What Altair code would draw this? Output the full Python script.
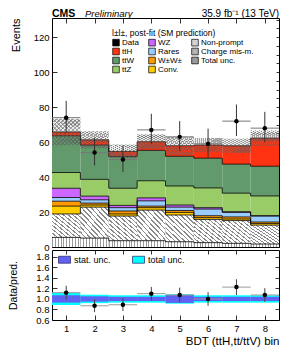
import altair as alt
import pandas as pd

FONT = "Liberation Sans"

# ---------------- data ----------------
bins = [1, 2, 3, 4, 5, 6, 7, 8]
charge = [5.5, 5.1, 3.6, 3.6, 3.0, 2.5, 2.1, 1.7]
nonprompt = [13.4, 17.7, 14.1, 17.5, 15.3, 13.3, 13.0, 10.8]
conv = [4.5, 1.2, 1.2, 1.4, 1.5, 1.0, 0.9, 0.9]
wpwp = [2.8, 1.1, 1.7, 0.9, 1.1, 1.1, 1.2, 0.9]
rares = [2.1, 1.9, 1.9, 3.0, 1.9, 3.8, 2.6, 3.4]
wz = [5.3, 2.1, 1.3, 1.7, 1.2, 0.8, 0.4, 0.2]
ttz = [9.0, 9.6, 9.8, 9.8, 10.9, 11.3, 10.6, 11.3]
ttw = [21.0, 19.6, 18.1, 17.4, 17.0, 17.0, 16.6, 17.0]
tth = [2.2, 3.0, 3.0, 4.9, 6.0, 7.5, 10.5, 16.1]

data = [74, 54, 50, 67, 63, 59, 72, 68]
data_err_lo = [8.6, 7.3, 7.0, 8.1, 7.9, 7.7, 8.5, 8.2]
data_err_hi = [9.6, 8.4, 8.1, 9.2, 9.0, 8.7, 9.5, 9.3]

tot_unc_rel = [0.115, 0.08, 0.07, 0.07, 0.09, 0.07, 0.07, 0.07]
stat_unc_rel = [0.07, 0.05, 0.04, 0.04, 0.075, 0.04, 0.04, 0.04]

ratio = [1.12, 0.87, 0.89, 1.10, 1.075, 1.00, 1.225, 1.075]
ratio_err = [0.13, 0.12, 0.12, 0.13, 0.14, 0.13, 0.15, 0.13]

stack_order = ["Charge mis-m.", "Non-prompt", "Conv.", "W±W±", "Rares", "WZ", "ttZ", "ttW", "ttH"]
stack_values = [charge, nonprompt, conv, wpwp, rares, wz, ttz, ttw, tth]

# legend fills column by column
legend_order = ["Data", "ttH", "ttW", "ttZ",
                "WZ", "Rares", "W±W±", "Conv.",
                "Non-prompt", "Charge mis-m.", "Total unc."]
legend_colors = ["black", "#ff3311", "#629a6b", "#99cc66",
                 "#cc66ff", "#99ccff", "#ff9900", "#ffcc00",
                 "#d4d4d4", "#b4b4b4", "#9a9a9a"]


def stripes(n, fg, bg, duty, x1, y1, x2, y2):
    stops = []
    for i in range(n):
        a = i / n
        b = (i + duty) / n
        c = (i + 1) / n
        stops += [{"offset": a, "color": fg}, {"offset": b, "color": fg},
                  {"offset": b, "color": bg}, {"offset": c, "color": bg}]
    return {"gradient": "linear", "stops": stops,
            "x1": x1, "y1": y1, "x2": x2, "y2": y2}


np_grad = stripes(12, "#8a8a8a", "white", 0.33, 0, 1, 1, 0)
ch_grad = stripes(10, "#9a9a9a", "white", 0.35, 0, 0, 1, 0)
tu_grad_a = stripes(14, "rgba(90,90,90,0.6)", "rgba(120,120,120,0.15)", 0.35, 0, 0, 1, 1)
tu_grad_b = stripes(14, "rgba(90,90,90,0.45)", "rgba(0,0,0,0)", 0.35, 0, 1, 1, 0)

# ---------------- tables ----------------
rows = []
step_rows = []
cum = [0.0] * len(bins)
for comp, vals in zip(stack_order, stack_values):
    tops = []
    for i, b in enumerate(bins):
        rows.append({"comp": comp, "lo": b - 0.5, "hi": b + 0.5,
                     "y0": cum[i], "y1": cum[i] + vals[i]})
        cum[i] = cum[i] + vals[i]
        tops.append(cum[i])
    for i, b in enumerate(bins):
        step_rows.append({"comp": comp, "x": b - 0.5, "y": tops[i]})
    step_rows.append({"comp": comp, "x": bins[-1] + 0.5, "y": tops[-1]})
stack_df = pd.DataFrame(rows)
step_df = pd.DataFrame(step_rows)
pred = cum

band_df = pd.DataFrame({
    "lo": [b - 0.5 for b in bins], "hi": [b + 0.5 for b in bins],
    "dn": [p * (1 - u) for p, u in zip(pred, tot_unc_rel)],
    "up": [p * (1 + u) for p, u in zip(pred, tot_unc_rel)],
})

data_df = pd.DataFrame({
    "bin": bins, "lo": [b - 0.5 for b in bins], "hi": [b + 0.5 for b in bins],
    "data": data,
    "dlo": [d - e for d, e in zip(data, data_err_lo)],
    "dhi": [d + e for d, e in zip(data, data_err_hi)],
    "ratio": ratio,
    "rlo": [r - e for r, e in zip(ratio, ratio_err)],
    "rhi": [r + e for r, e in zip(ratio, ratio_err)],
})

rband_rows = []
for kind, rel in [("total unc.", tot_unc_rel), ("stat. unc.", stat_unc_rel)]:
    for i, b in enumerate(bins):
        rband_rows.append({"kind": kind, "lo": b - 0.5, "hi": b + 0.5,
                           "dn": 1 - rel[i], "up": 1 + rel[i]})
rband_df = pd.DataFrame(rband_rows)

# ---------------- scales / axes ----------------
xs = alt.Scale(domain=[0.5, 8.5], nice=False, zero=False)
ys = alt.Scale(domain=[0, 131], nice=False, zero=False)
rs = alt.Scale(domain=[0.6, 1.93], nice=False, zero=False)

AX = alt.Axis(orient="bottom", values=bins, labels=False, offset=-5, tickSize=5, title=None)
AY = alt.Axis(orient="left", values=[0, 20, 40, 60, 80, 100, 120], offset=-5, tickSize=5,
              labelPadding=3, title="Events", titleAnchor="end",
              titleFontSize=11, titlePadding=12)
AX_TOP = alt.Axis(orient="top", values=bins, labels=False, offset=-5, tickSize=5, title=None)
AY_RIGHT = alt.Axis(orient="right", values=list(range(0, 131, 5)), labels=False,
                    offset=-3, tickSize=3, title=None)

main_legend = alt.Legend(
    title="l±l±, post-fit (SM prediction)", orient="none", legendX=60, legendY=11,
    columns=3, columnPadding=8, rowPadding=-2, titlePadding=1,
    titleFontSize=8.5, titleFontWeight="normal", labelFontSize=8,
    symbolSize=44, symbolType="square", symbolStrokeColor="black",
    symbolStrokeWidth=0.7, labelOffset=2, titleLimit=300, labelLimit=200,
)


def mx(f):
    return alt.X(f, scale=xs, axis=AX)


def my(f):
    return alt.Y(f, scale=ys, axis=AY)


stack = alt.Chart(stack_df).mark_rect().encode(
    x=mx("lo:Q"), x2="hi:Q", y=my("y0:Q"), y2="y1:Q",
    color=alt.Color("comp:N", scale=alt.Scale(domain=legend_order, range=legend_colors),
                    legend=main_legend),
)

np_layer = alt.Chart(stack_df).transform_filter(
    alt.datum.comp == "Non-prompt").mark_rect(fill=np_grad).encode(
    x=mx("lo:Q"), x2="hi:Q", y=my("y0:Q"), y2="y1:Q")

ch_layer = alt.Chart(stack_df).transform_filter(
    alt.datum.comp == "Charge mis-m.").mark_rect(fill=ch_grad).encode(
    x=mx("lo:Q"), x2="hi:Q", y=my("y0:Q"), y2="y1:Q")

steps = alt.Chart(step_df).mark_line(interpolate="step-after", color="black",
                                      strokeWidth=0.8).encode(
    x=mx("x:Q"), y=my("y:Q"), detail="comp:N")

band_a = alt.Chart(band_df).mark_rect(fill=tu_grad_a).encode(
    x=mx("lo:Q"), x2="hi:Q", y=my("dn:Q"), y2="up:Q")
band_b = alt.Chart(band_df).mark_rect(fill=tu_grad_b).encode(
    x=mx("lo:Q"), x2="hi:Q", y=my("dn:Q"), y2="up:Q")

d_h = alt.Chart(data_df).mark_rule(color="#777777", strokeWidth=1).encode(
    x=mx("lo:Q"), x2="hi:Q", y=my("data:Q"))
d_v = alt.Chart(data_df).mark_rule(color="#333333", strokeWidth=1).encode(
    x=mx("bin:Q"), y=my("dlo:Q"), y2="dhi:Q")
d_p = alt.Chart(data_df).mark_point(filled=True, color="black", size=20, opacity=1).encode(
    x=mx("bin:Q"), y=my("data:Q"))

txt_df = pd.DataFrame({"cms": ["CMS"], "pre": ["Preliminary"], "lumi": ["35.9 fb⁻¹ (13 TeV)"]})
t_cms = alt.Chart(txt_df).mark_text(font=FONT, fontSize=10.5, fontWeight="bold", align="left",
                                    baseline="alphabetic").encode(
    x=alt.value(0), y=alt.value(-1.5), text="cms:N")
t_pre = alt.Chart(txt_df).mark_text(font=FONT, fontSize=9.5, fontStyle="italic", align="left",
                                    baseline="alphabetic").encode(
    x=alt.value(33), y=alt.value(-1.5), text="pre:N")
t_lumi = alt.Chart(txt_df).mark_text(font=FONT, fontSize=10, align="right",
                                     baseline="alphabetic").encode(
    x=alt.value(227), y=alt.value(-1.5), text="lumi:N")

main_inner = alt.layer(stack, np_layer, ch_layer, steps, band_a, band_b, d_h, d_v, d_p)
axes_main = alt.Chart(data_df).mark_point(opacity=0).encode(
    x=alt.X("bin:Q", scale=xs, axis=AX_TOP),
    y=alt.Y("data:Q", scale=ys, axis=AY_RIGHT))
main = alt.layer(main_inner, axes_main, t_cms, t_pre, t_lumi).properties(width=227, height=229)

# ---------------- ratio panel ----------------
RX = alt.Axis(orient="bottom", values=bins, format="d", offset=-5, tickSize=5, labelPadding=3,
              title="BDT (ttH,tt/ttV) bin", titleAnchor="end", titleFontSize=11.5,
              titlePadding=3)
RY = alt.Axis(orient="left", values=[0.6, 0.8, 1.0, 1.2, 1.4, 1.6, 1.8], format=".1f",
              offset=-5, tickSize=5, labelPadding=3, title="Data/pred.", titleFontSize=10.5,
              titlePadding=17)
RX_TOP = alt.Axis(orient="top", values=bins, labels=False, offset=-4, tickSize=4, title=None)
RY_RIGHT = alt.Axis(orient="right", values=[0.6, 0.8, 1.0, 1.2, 1.4, 1.6, 1.8],
                    labels=False, offset=-4, tickSize=4, title=None)


def rx(f):
    return alt.X(f, scale=xs, axis=RX)


def ry(f):
    return alt.Y(f, scale=rs, axis=RY)


ratio_legend = alt.Legend(
    title=None, orient="none", legendX=6, legendY=3, direction="horizontal",
    symbolType="M-1,-0.58H1V0.58H-1Z", symbolSize=144, symbolStrokeColor="#222266",
    symbolStrokeWidth=0.7, labelFontSize=9, labelOffset=3, columnPadding=20)

rband = alt.Chart(rband_df).mark_rect().encode(
    x=rx("lo:Q"), x2="hi:Q", y=ry("dn:Q"), y2="up:Q",
    color=alt.Color("kind:N", scale=alt.Scale(domain=["stat. unc.", "total unc."],
                                              range=["#6262f2", "#00ffff"]),
                    legend=ratio_legend),
)
r_h = alt.Chart(data_df).mark_rule(color="#999999", strokeWidth=1).encode(
    x=rx("lo:Q"), x2="hi:Q", y=ry("ratio:Q"))
r_v = alt.Chart(data_df).mark_rule(color="#444444", strokeWidth=1).encode(
    x=rx("bin:Q"), y=ry("rlo:Q"), y2="rhi:Q")
r_p = alt.Chart(data_df).mark_point(filled=True, color="black", size=20, opacity=1).encode(
    x=rx("bin:Q"), y=ry("ratio:Q"))
axes_ratio = alt.Chart(data_df).mark_point(opacity=0).encode(
    x=alt.X("bin:Q", scale=xs, axis=RX_TOP),
    y=alt.Y("ratio:Q", scale=rs, axis=RY_RIGHT))

ratio_panel = alt.layer(alt.layer(rband, r_h, r_v, r_p), axes_ratio).properties(
    width=227, height=70)

chart = alt.vconcat(main, ratio_panel, spacing=3, bounds="flush").resolve_scale(
    color="independent"
).properties(
    padding={"left": 0, "top": 0, "right": 0, "bottom": 0}
).configure_view(
    stroke="black", strokeWidth=1
).configure_axis(
    labelFont=FONT, titleFont=FONT, labelFontSize=9.5, labelColor="black",
    titleColor="black", titleFontWeight="normal", tickColor="black", tickWidth=0.8,
    domain=False, grid=False
).configure_legend(
    labelFont=FONT, titleFont=FONT, labelColor="black", titleColor="black"
)

chart.save("out.html", embed_options={"renderer": "svg", "actions": False})
